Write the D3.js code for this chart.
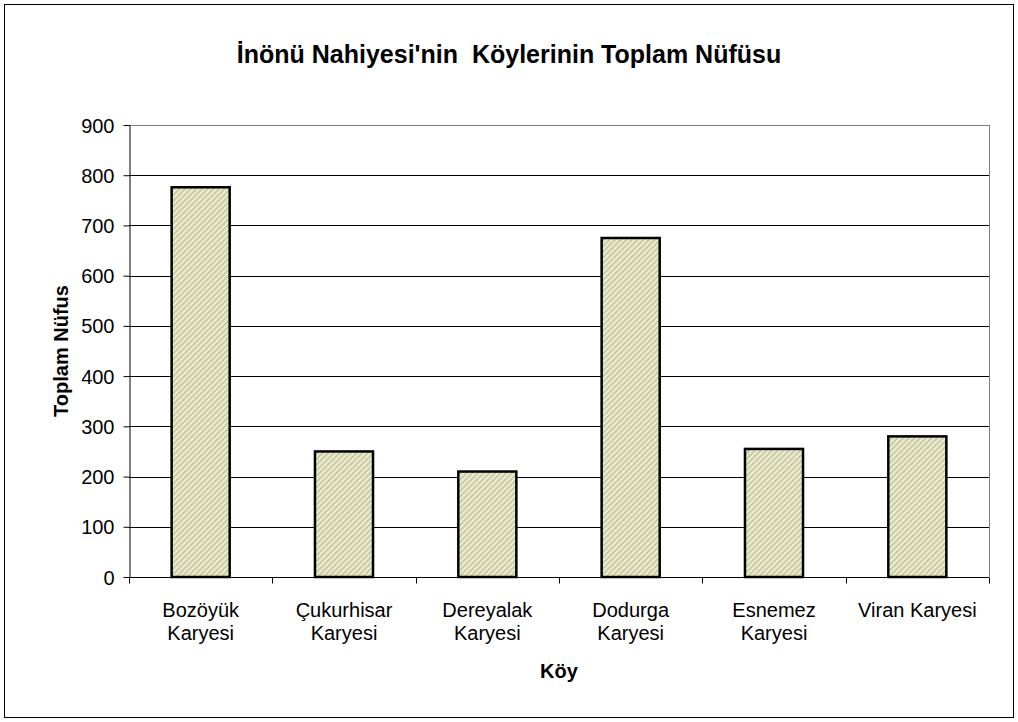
<!DOCTYPE html>
<html>
<head>
<meta charset="utf-8">
<script src="https://cdn.jsdelivr.net/npm/d3@7"></script>
<style>
	body { margin: 0; background: #fff; }
	svg text { font-family: "Liberation Sans", Arial, sans-serif; fill: #000; }
</style>
</head>
<body>
<div id="chart"></div>
<script>
// data
var categories = [
	["Bozöyük", "Karyesi"],
	["Çukurhisar", "Karyesi"],
	["Dereyalak", "Karyesi"],
	["Dodurga", "Karyesi"],
	["Esnemez", "Karyesi"],
	["Viran Karyesi"]
];
var population = [776, 250, 210, 675, 255, 280];
var yTicks = [0, 100, 200, 300, 400, 500, 600, 700, 800, 900];

var W = 1018, H = 722;
var margin = {top: 125, right: 29, bottom: 145, left: 129};
var width = W - margin.left - margin.right,
	height = H - margin.top - margin.bottom;

var svg = d3.select("#chart").append("svg")
		.attr("width", W)
		.attr("height", H);

// hatch pattern for the bars
var pat = svg.append("defs").append("pattern")
		.attr("id", "hatch")
		.attr("patternUnits", "userSpaceOnUse")
		.attr("width", 4)
		.attr("height", 4)
		.attr("patternTransform", "rotate(45)");
pat.append("rect")
		.attr("width", 4).attr("height", 4)
		.attr("fill", "#ececd2");
pat.append("rect")
		.attr("width", 1.6).attr("height", 4)
		.attr("fill", "#c4c49a");

// outer frame
svg.append("rect")
		.attr("x", 4.5).attr("y", 4.5)
		.attr("width", W - 9).attr("height", H - 9)
		.attr("fill", "none")
		.attr("stroke", "#000")
		.attr("stroke-width", 1);

var g = svg.append("g")
		.attr("transform", `translate(${margin.left}, ${margin.top})`);

var x = d3.scaleBand()
		.domain(d3.range(categories.length))
		.range([0, width])
		.paddingInner(0.595)
		.paddingOuter(0.2975);
var xOuter = d3.scaleBand()
		.domain(d3.range(categories.length))
		.range([0, width]);
var y = d3.scaleLinear()
		.domain([0, 900])
		.range([height, 0]);

// gridlines
g.append("g")
	.selectAll("line")
	.data(yTicks.filter(d => d > 0))
	.join("line")
		.attr("x1", 0).attr("x2", width)
		.attr("y1", d => Math.round(y(d)) + 0.5)
		.attr("y2", d => Math.round(y(d)) + 0.5)
		.attr("stroke", d => d === 900 ? "#808080" : "#000")
		.attr("stroke-width", 1);

// right border of plot area
g.append("line")
		.attr("x1", width + 0.5).attr("x2", width + 0.5)
		.attr("y1", 0).attr("y2", height)
		.attr("stroke", "#808080");

// bars
g.append("g")
	.selectAll("rect")
	.data(population)
	.join("rect")
		.attr("x", (d, i) => x(i))
		.attr("y", d => y(d))
		.attr("width", x.bandwidth())
		.attr("height", d => height - y(d))
		.attr("fill", "url(#hatch)")
		.attr("stroke", "#000")
		.attr("stroke-width", 2.5);

// y axis
var yAxis = d3.axisLeft(y)
		.tickValues(yTicks)
		.tickSize(6)
		.tickSizeOuter(0)
		.tickPadding(9);
g.append("g")
		.attr("transform", "translate(0.5, 0)")
		.call(yAxis)
		.call(a => a.select(".domain").attr("stroke", "#000"))
		.call(a => a.selectAll("line").attr("stroke", "#000"))
		.call(a => a.selectAll("text")
			.style("font-size", "20px")
			.attr("dy", "0.35em"));

// x axis line and ticks at category boundaries
var xa = g.append("g")
		.attr("transform", `translate(0, ${height + 0.5})`);
xa.append("line")
		.attr("x1", 0).attr("x2", width)
		.attr("stroke", "#000");
xa.selectAll(".tick")
	.data(d3.range(categories.length + 1))
	.join("line")
		.attr("class", "tick")
		.attr("x1", i => Math.round(i * xOuter.step()) + 0.5)
		.attr("x2", i => Math.round(i * xOuter.step()) + 0.5)
		.attr("y1", 0).attr("y2", 6)
		.attr("stroke", "#000");

// category labels
var labels = xa.selectAll(".cat")
	.data(categories)
	.join("text")
		.attr("class", "cat")
		.attr("text-anchor", "middle")
		.attr("transform", (d, i) => `translate(${xOuter(i) + xOuter.bandwidth() / 2}, 39)`)
		.style("font-size", "20px");
labels.selectAll("tspan")
	.data(d => d)
	.join("tspan")
		.attr("x", 0)
		.attr("dy", (d, i) => i === 0 ? 0 : 23)
		.text(d => d);

// titles
svg.append("text")
		.attr("x", 509).attr("y", 63)
		.attr("text-anchor", "middle")
		.style("font-size", "25px")
		.style("font-weight", "bold")
		.text("İnönü Nahiyesi'nin\u00a0 Köylerinin Toplam Nüfüsu");

svg.append("text")
		.attr("x", 559).attr("y", 678)
		.attr("text-anchor", "middle")
		.style("font-size", "20px")
		.style("font-weight", "bold")
		.text("Köy");

svg.append("text")
		.attr("transform", "translate(68, 351) rotate(-90)")
		.attr("text-anchor", "middle")
		.style("font-size", "20px")
		.style("font-weight", "bold")
		.text("Toplam Nüfus");
</script>
</body>
</html>
